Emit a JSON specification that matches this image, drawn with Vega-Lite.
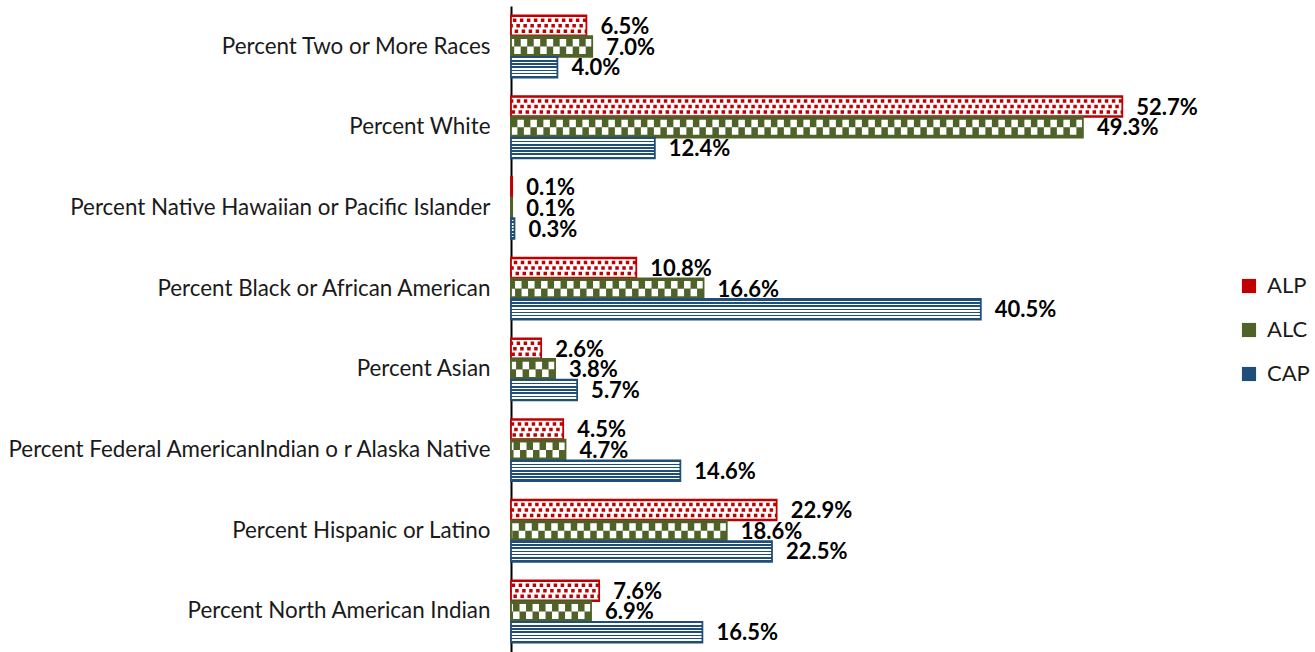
{
  "$schema": "https://vega.github.io/schema/vega-lite/v6.json",
  "autosize": "none",
  "width": 696,
  "height": 646,
  "padding": {"left": 511, "top": 6, "right": 108, "bottom": 0},
  "background": "white",
  "config": {"view": {"stroke": null}, "font": "Lato",
    "axisY": {"ticks": false, "labelFont": "Lato", "labelFontSize": 22.4, "labelColor": "#1a1a1a", "labelPadding": 21, "labelLimit": 600, "domainColor": "black", "domainWidth": 2, "zindex": 1, "title": null}},
  "data": {"values": [
    {"cat": "Percent Two or More Races", "series": "ALP", "value": 0.065},
    {"cat": "Percent Two or More Races", "series": "ALC", "value": 0.070},
    {"cat": "Percent Two or More Races", "series": "CAP", "value": 0.040},
    {"cat": "Percent White", "series": "ALP", "value": 0.527},
    {"cat": "Percent White", "series": "ALC", "value": 0.493},
    {"cat": "Percent White", "series": "CAP", "value": 0.124},
    {"cat": "Percent Native Hawaiian or Pacific Islander", "series": "ALP", "value": 0.001},
    {"cat": "Percent Native Hawaiian or Pacific Islander", "series": "ALC", "value": 0.001},
    {"cat": "Percent Native Hawaiian or Pacific Islander", "series": "CAP", "value": 0.003},
    {"cat": "Percent Black or African American", "series": "ALP", "value": 0.108},
    {"cat": "Percent Black or African American", "series": "ALC", "value": 0.166},
    {"cat": "Percent Black or African American", "series": "CAP", "value": 0.405},
    {"cat": "Percent Asian", "series": "ALP", "value": 0.026},
    {"cat": "Percent Asian", "series": "ALC", "value": 0.038},
    {"cat": "Percent Asian", "series": "CAP", "value": 0.057},
    {"cat": "Percent Federal AmericanIndian o r Alaska Native", "series": "ALP", "value": 0.045},
    {"cat": "Percent Federal AmericanIndian o r Alaska Native", "series": "ALC", "value": 0.047},
    {"cat": "Percent Federal AmericanIndian o r Alaska Native", "series": "CAP", "value": 0.146},
    {"cat": "Percent Hispanic or Latino", "series": "ALP", "value": 0.229},
    {"cat": "Percent Hispanic or Latino", "series": "ALC", "value": 0.186},
    {"cat": "Percent Hispanic or Latino", "series": "CAP", "value": 0.225},
    {"cat": "Percent North American Indian", "series": "ALP", "value": 0.076},
    {"cat": "Percent North American Indian", "series": "ALC", "value": 0.069},
    {"cat": "Percent North American Indian", "series": "CAP", "value": 0.165}
  ]},
  "encoding": {
    "y": {"field": "cat", "type": "nominal", "sort": null, "title": null,
      "scale": {"paddingInner": 0.2318, "paddingOuter": 0.118}}
  },
  "layer": [
    {
      "mark": {"type": "bar"},
      "encoding": {
        "yOffset": {"field": "series", "type": "nominal", "sort": ["ALP", "ALC", "CAP"], "scale": {"domain": ["ALP", "ALC", "CAP"], "paddingInner": 0, "paddingOuter": 0}},
        "x": {"field": "value", "type": "quantitative", "scale": {"domain": [0, 0.6], "nice": false}, "axis": null},
        "color": {"field": "series", "type": "nominal",
          "scale": {"domain": ["ALP", "ALC", "CAP"], "range": ["#C00000", "#4F6228", "#1F4E79"]},
          "legend": {"orient": "none", "legendX": 727, "legendY": 269, "title": null, "symbolType": "square", "symbolSize": 200, "symbolStrokeWidth": 0, "labelFont": "Lato", "labelFontSize": 22, "labelColor": "#1a1a1a", "rowPadding": 22, "padding": 0, "labelOffset": 7}}
      }
    },
    {
      "transform": [{"filter": {"field": "series", "equal": "ALP"}}],
      "mark": {"type": "rule", "color": "white", "strokeWidth": 17.5},
      "encoding": {"x": {"field": "value", "type": "quantitative"}, "x2": {"datum": 0},
        "y": {"field": "cat", "type": "nominal", "sort": null, "title": null, "bandPosition": 0.1667}}
    },
    {
      "transform": [{"filter": {"field": "series", "equal": "ALP"}}],
      "mark": {"type": "rule", "color": "#C00000", "strokeWidth": 3.5, "strokeDash": [3.5, 3.5], "strokeDashOffset": 0},
      "encoding": {"x": {"field": "value", "type": "quantitative"}, "x2": {"datum": 0},
        "y": {"field": "cat", "type": "nominal", "sort": null, "title": null, "bandPosition": 0.0779}}
    },
    {
      "transform": [{"filter": {"field": "series", "equal": "ALP"}}],
      "mark": {"type": "rule", "color": "#C00000", "strokeWidth": 3.5, "strokeDash": [3.5, 3.5], "strokeDashOffset": 3.5},
      "encoding": {"x": {"field": "value", "type": "quantitative"}, "x2": {"datum": 0},
        "y": {"field": "cat", "type": "nominal", "sort": null, "title": null, "bandPosition": 0.1667}}
    },
    {
      "transform": [{"filter": {"field": "series", "equal": "ALP"}}],
      "mark": {"type": "rule", "color": "#C00000", "strokeWidth": 3.5, "strokeDash": [3.5, 3.5], "strokeDashOffset": 1.75},
      "encoding": {"x": {"field": "value", "type": "quantitative"}, "x2": {"datum": 0},
        "y": {"field": "cat", "type": "nominal", "sort": null, "title": null, "bandPosition": 0.2553}}
    },
    {
      "transform": [{"filter": {"field": "series", "equal": "ALC"}}],
      "mark": {"type": "rule", "color": "white", "strokeWidth": 7.5, "strokeDash": [6.5, 6.5], "strokeDashOffset": 0},
      "encoding": {"x": {"field": "value", "type": "quantitative"}, "x2": {"datum": 0},
        "y": {"field": "cat", "type": "nominal", "sort": null, "title": null, "bandPosition": 0.4387}}
    },
    {
      "transform": [{"filter": {"field": "series", "equal": "ALC"}}],
      "mark": {"type": "rule", "color": "white", "strokeWidth": 7.5, "strokeDash": [6.5, 6.5], "strokeDashOffset": 6.5},
      "encoding": {"x": {"field": "value", "type": "quantitative"}, "x2": {"datum": 0},
        "y": {"field": "cat", "type": "nominal", "sort": null, "title": null, "bandPosition": 0.5613}}
    },
    {
      "transform": [{"filter": {"field": "series", "equal": "CAP"}}],
      "mark": {"type": "bar", "fill": {"gradient": "linear", "x1": 0, "y1": 0, "x2": 0, "y2": 1, "stops": [
        {"offset": 0, "color": "#1F4E79"}, {"offset": 0.0769, "color": "#1F4E79"},
        {"offset": 0.0769, "color": "#ffffff"}, {"offset": 0.1538, "color": "#ffffff"},
        {"offset": 0.1538, "color": "#1F4E79"}, {"offset": 0.2308, "color": "#1F4E79"},
        {"offset": 0.2308, "color": "#ffffff"}, {"offset": 0.3077, "color": "#ffffff"},
        {"offset": 0.3077, "color": "#1F4E79"}, {"offset": 0.3846, "color": "#1F4E79"},
        {"offset": 0.3846, "color": "#ffffff"}, {"offset": 0.4615, "color": "#ffffff"},
        {"offset": 0.4615, "color": "#1F4E79"}, {"offset": 0.5385, "color": "#1F4E79"},
        {"offset": 0.5385, "color": "#ffffff"}, {"offset": 0.6154, "color": "#ffffff"},
        {"offset": 0.6154, "color": "#1F4E79"}, {"offset": 0.6923, "color": "#1F4E79"},
        {"offset": 0.6923, "color": "#ffffff"}, {"offset": 0.7692, "color": "#ffffff"},
        {"offset": 0.7692, "color": "#1F4E79"}, {"offset": 0.8462, "color": "#1F4E79"},
        {"offset": 0.8462, "color": "#ffffff"}, {"offset": 0.9231, "color": "#ffffff"},
        {"offset": 0.9231, "color": "#1F4E79"}, {"offset": 1, "color": "#1F4E79"}
      ]}},
      "encoding": {
        "yOffset": {"field": "series", "type": "nominal", "sort": ["ALP", "ALC", "CAP"]},
        "x": {"field": "value", "type": "quantitative"}}
    },
    {
      "mark": {"type": "bar", "filled": false, "strokeWidth": 1.8},
      "encoding": {
        "yOffset": {"field": "series", "type": "nominal", "sort": ["ALP", "ALC", "CAP"]},
        "x": {"field": "value", "type": "quantitative"},
        "stroke": {"field": "series", "type": "nominal",
          "scale": {"domain": ["ALP", "ALC", "CAP"], "range": ["#C00000", "#4F6228", "#1F4E79"]}, "legend": null}
      }
    },
    {
      "mark": {"type": "text", "align": "left", "baseline": "middle", "dx": 14, "dy": 1, "font": "Lato", "fontWeight": "bold", "fontSize": 22, "color": "black"},
      "encoding": {
        "yOffset": {"field": "series", "type": "nominal", "sort": ["ALP", "ALC", "CAP"]},
        "x": {"field": "value", "type": "quantitative"},
        "text": {"field": "value", "type": "quantitative", "format": ".1%"}
      }
    }
  ]
}
